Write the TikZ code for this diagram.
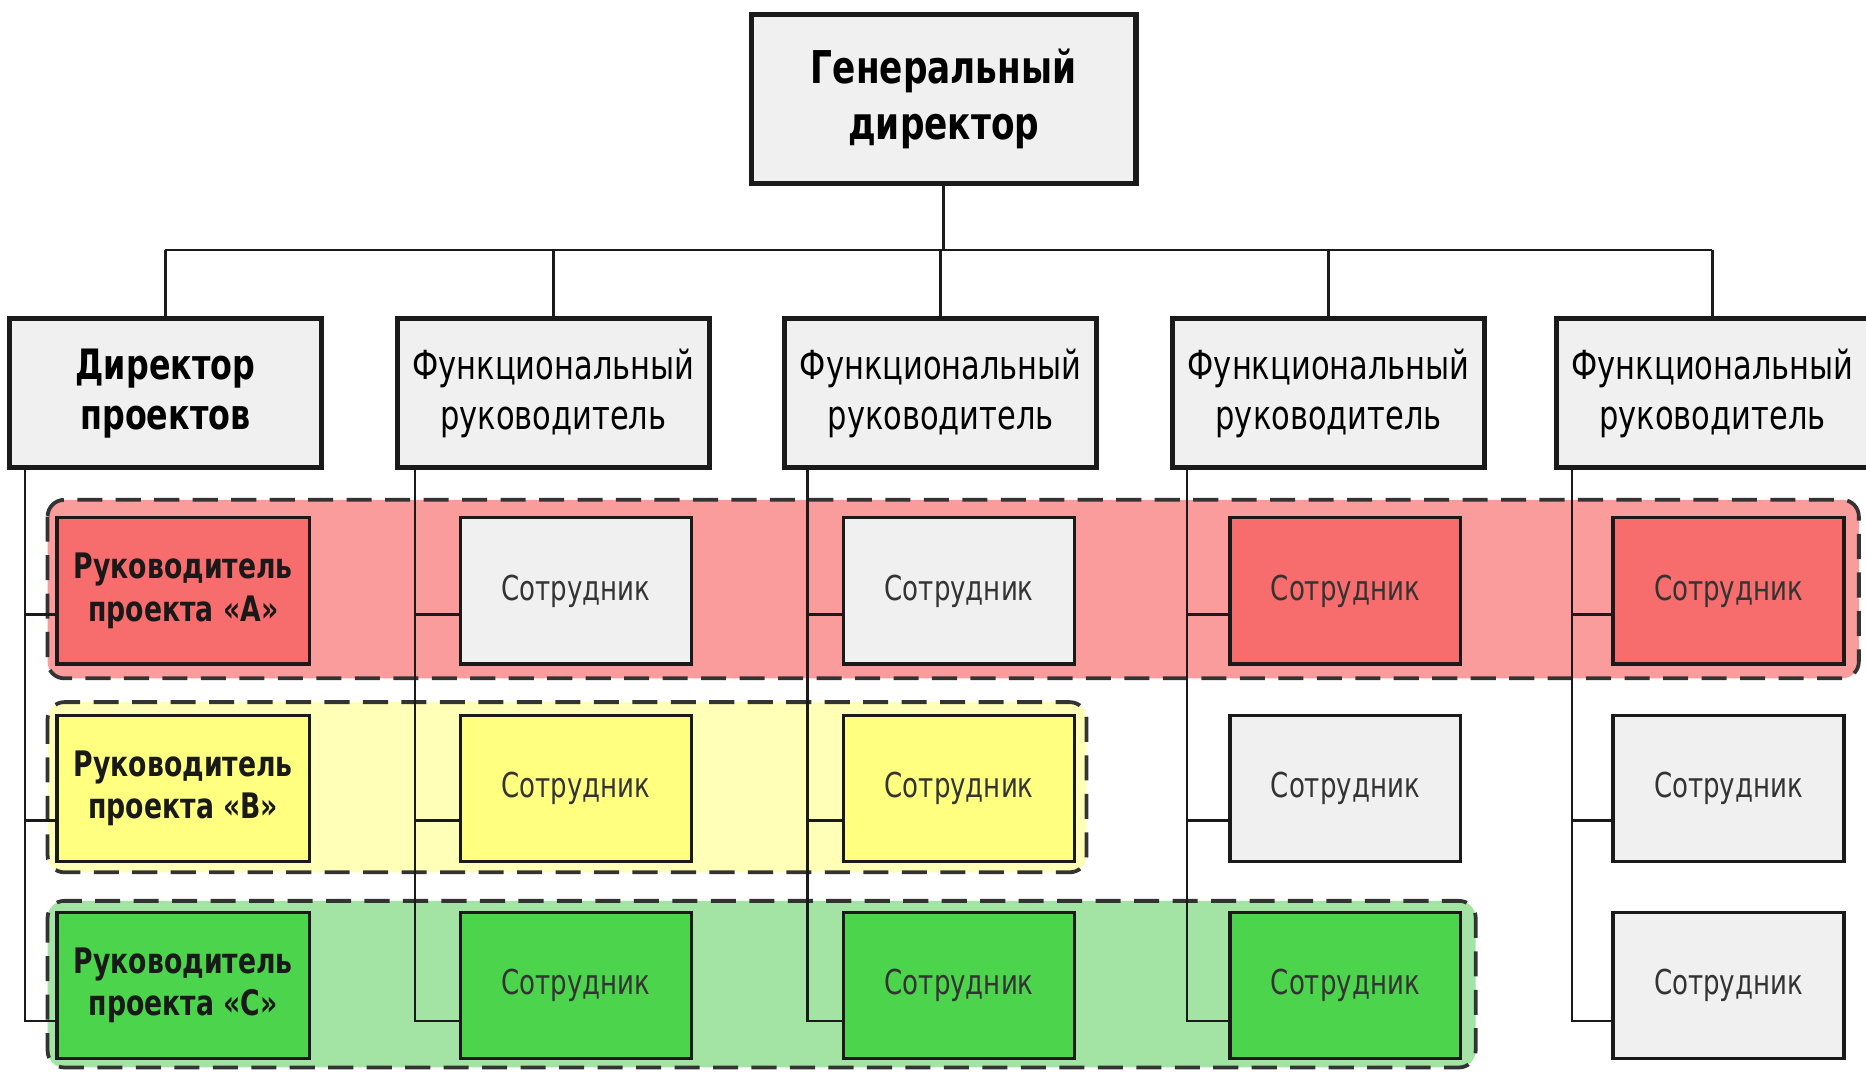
\documentclass[tikz,border=0pt]{standalone}
\usepackage{fontspec}
\setmainfont{DejaVu Sans}[FakeStretch=0.76]
\usetikzlibrary{positioning,calc}
\definecolor{boxgray}{HTML}{F0F0F0}
\definecolor{redbox}{HTML}{F76C6C}
\definecolor{redband}{HTML}{FA9C9C}
\definecolor{yelbox}{HTML}{FFFF80}
\definecolor{yelband}{HTML}{FFFFB8}
\definecolor{grnbox}{HTML}{4DD44D}
\definecolor{grnband}{HTML}{A3E3A3}
\definecolor{edge}{HTML}{1A1A1A}
\definecolor{dashgray}{HTML}{333333}
\tikzset{
  topbox/.style={draw=edge,line width=1.3pt,fill=boxgray,minimum width=3.23cm,
    minimum height=1.42cm,align=center,font=\bfseries\fontsize{10.8}{13.3}\selectfont},
  headbox/.style={draw=edge,line width=1.2pt,fill=boxgray,minimum width=2.62cm,
    minimum height=1.25cm,align=center,inner sep=1pt,font=\fontsize{9.6}{12}\selectfont},
  leadbox/.style={draw=edge,line width=0.8pt,minimum width=2.12cm,minimum height=1.23cm,
    align=center,inner sep=1pt,text=black!90,font=\bfseries\fontsize{8.4}{10.2}\selectfont},
  empbox/.style={draw=edge,line width=0.8pt,fill=boxgray,minimum width=1.94cm,
    minimum height=1.23cm,text=black!80,font=\fontsize{8.2}{10}\selectfont},
  band/.style={draw=dashgray,line width=0.9pt,dash pattern=on 6pt off 3.2pt,rounded corners=4pt},
  link/.style={draw=edge,line width=0.6pt}
}
\begin{document}
\begin{tikzpicture}[x=0.1mm,y=-0.1mm]
  \useasboundingbox (0,0) rectangle (1568,900);

  % ---- project bands -----------------------------------------
  \draw[band,fill=redband] (40,420) rectangle (1562,570);
  \draw[band,fill=yelband] (40,590) rectangle (913,733);
  \draw[band,fill=grnband] (40,757) rectangle (1240,897);

  % ---- top and heads -----------------------------------------
  \node[topbox] (gen) at (793,83) {Генеральный\\директор};
  \node[headbox,font=\bfseries\fontsize{10}{12}\selectfont] (dp) at (139,330.5) {Директор\\проектов};
  \node[headbox] (f1) at (465,330.5) {Функциональный\\руководитель};
  \node[headbox] (f2) at (790.5,330.5) {Функциональный\\руководитель};
  \node[headbox] (f3) at (1116.5,330.5) {Функциональный\\руководитель};
  \node[headbox] (f4) at (1439,330.5) {Функциональный\\руководитель};

  % ---- project leaders ---------------------------------------
  \node[leadbox,fill=redbox] (a0) at (154,496.5) {Руководитель\\проекта «A»};
  \node[leadbox,fill=yelbox] (b0) at (154,662.5) {Руководитель\\проекта «B»};
  \node[leadbox,fill=grnbox] (c0) at (154,828) {Руководитель\\проекта «C»};

  % ---- staff -------------------------------------------------
  \foreach \i/\x/\fa/\fb/\fc in {1/484/boxgray/yelbox/grnbox,
      2/806/boxgray/yelbox/grnbox, 3/1130.5/redbox/boxgray/grnbox,
      4/1452.5/redbox/boxgray/boxgray}{
    \node[empbox,fill=\fa] (a\i) at (\x,496.5) {Сотрудник};
    \node[empbox,fill=\fb] (b\i) at (\x,662.5) {Сотрудник};
    \node[empbox,fill=\fc] (c\i) at (\x,828) {Сотрудник};
  }

  % ---- bus from the director ---------------------------------
  \coordinate (bus) at (0,210);
  \draw[link] (gen.south) -- (gen.south |- bus);
  \draw[link] (dp.north |- bus) -- (f4.north |- bus);
  \foreach \h in {dp,f1,f2,f3,f4}
    \draw[link] (\h.north) -- (\h.north |- bus);

  % ---- column spines -----------------------------------------
  \foreach \h/\i/\dx in {dp/0/15,f1/1/17,f2/2/21,f3/3/14,f4/4/15}{
    \coordinate (s\i) at ($(\h.south west)+(\dx,0)$);
    \coordinate (ja\i) at ($(a\i.west)+(0,20)$);
    \coordinate (jb\i) at ($(b\i.west)+(0,27)$);
    \coordinate (jc\i) at ($(c\i.west)+(0,30)$);
    \draw[link] (s\i) |- (jc\i);
    \draw[link] (ja\i -| s\i) -- (ja\i);
    \draw[link] (jb\i -| s\i) -- (jb\i);
  }
\end{tikzpicture}
\end{document}
